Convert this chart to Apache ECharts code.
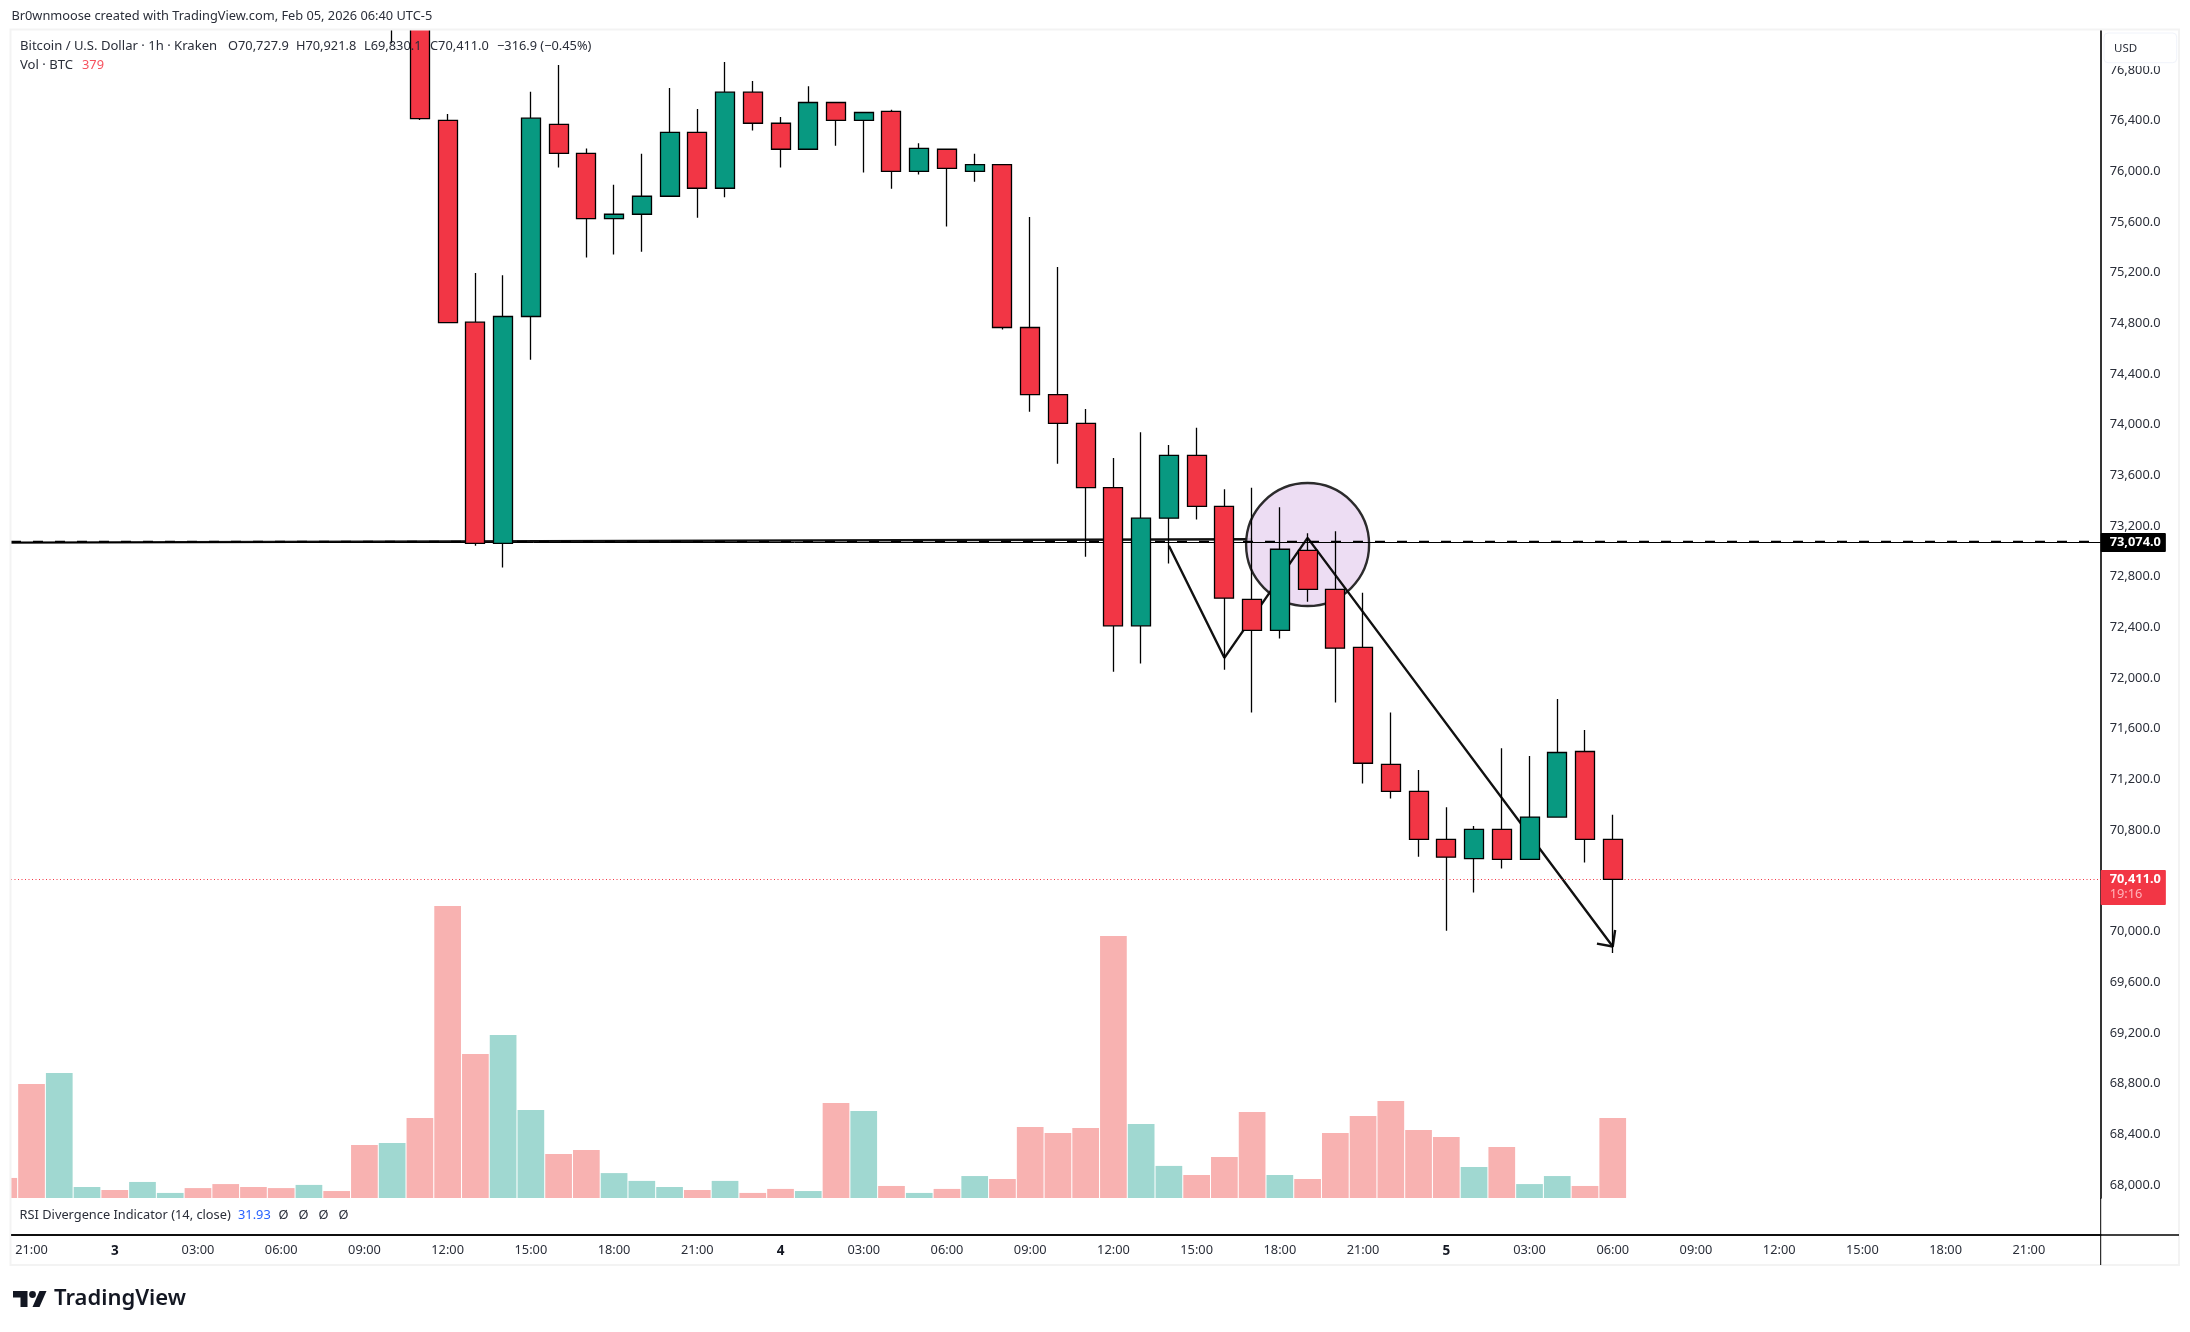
<!DOCTYPE html>
<html>
<head>
<meta charset="utf-8">
<style>
  html, body { margin: 0; padding: 0; background: #fff; }
  #main { width: 2190px; height: 1332px; }
</style>
<script src="https://cdn.jsdelivr.net/npm/echarts@6/dist/echarts.min.js"></script>
</head>
<body>
<div id="main"></div>
<script>
// candle index 0 is Feb 2 21:00, one step per hour
var candleIndex = [13,14,15,16,17,18,19,20,21,22,23,24,25,26,27,28,29,30,31,32,33,34,35,36,37,38,39,40,41,42,43,44,45,46,47,48,49,50,51,52,53,54,55,56,57];
var opens  = [77700,77500,76401,74809,73063,74854,76370,76141,75627,75661,75803,76307,75866,76624,76379,76174,76543,76401,76473,75999,76174,75999,76053,74767,74238,74011,73504,72413,73262,73758,73355,72622,72377,73008,72701,72242,71320,71106,70728,70576,70807,70570,70903,71421,70727.9];
var closes = [77300,76416,74806,73063,74854,76419,76141,75627,75661,75803,76307,75866,76624,76379,76174,76543,76401,76464,75999,76180,76023,76053,74767,74238,74011,73504,72413,73262,73758,73355,72631,72377,73017,72701,72236,71328,71106,70728,70587,70807,70570,70903,71413,70728,70411];
var lows   = [77010,76404,74800,73045,72873,74513,76029,75319,75343,75365,75803,75633,75796,76322,76029,76174,76201,75990,75863,75975,75564,75917,74751,74102,73691,72957,72050,72115,72904,73251,72067,71729,72312,72602,71807,71168,71049,70590,70006,70308,70497,70570,70903,70545,69830.1];
var highs  = [78000,77600,76452,75198,75180,76627,76839,76180,75893,76138,76657,76491,76863,76712,76428,76672,76543,76464,76485,76222,76174,76138,76053,75639,75244,74123,73738,73941,73840,73975,73490,73502,73349,73144,73160,72673,71729,71275,70981,70832,71447,71385,71836,71590,70921.8];

var volumeIndex = [-1,0,1,2,3,4,5,6,7,8,9,10,11,12,13,14,15,16,17,18,19,20,21,22,23,24,25,26,27,28,29,30,31,32,33,34,35,36,37,38,39,40,41,42,43,44,45,46,47,48,49,50,51,52,53,54,55,56,57];
var volumes = [95,540,592,52,38,76,24,47,66,52,47,62,33,251,261,379,1383,682,772,417,208,227,118,81,52,38,81,24,43,33,450,412,57,24,43,104,90,336,308,332,1241,351,152,109,194,407,109,90,308,388,459,322,289,147,242,66,104,57,379];
var volumeUp = [0,0,1,1,0,1,1,0,0,0,0,1,0,0,1,0,0,0,1,1,0,0,1,1,1,0,1,0,0,1,0,1,0,1,0,1,0,0,0,0,0,1,1,0,0,0,1,0,0,0,0,0,0,1,0,1,1,0,0];

var priceTicks = [68000,68400,68800,69200,69600,70000,70800,71200,71600,72000,72400,72800,73200,73600,74000,74400,74800,75200,75600,76000,76400,76800];
var priceTickLabels = ['68,000.0','68,400.0','68,800.0','69,200.0','69,600.0','70,000.0','70,800.0','71,200.0','71,600.0','72,000.0','72,400.0','72,800.0','73,200.0','73,600.0','74,000.0','74,400.0','74,800.0','75,200.0','75,600.0','76,000.0','76,400.0','76,800.0'];

var timeTicks = [0,3,6,9,12,15,18,21,24,27,30,33,36,39,42,45,48,51,54,57,60,63,66,69,72];
var timeLabels = ['21:00','3','03:00','06:00','09:00','12:00','15:00','18:00','21:00','4','03:00','06:00','09:00','12:00','15:00','18:00','21:00','5','03:00','06:00','09:00','12:00','15:00','18:00','21:00'];

// drawings on the chart, [candle index, price]
var levelLine = [[-0.74,73069],[44,73096]];
var zigzag = [[41,73045],[43,72160],[46,73107],[57,69882]];
var arrowHead = [[56.43,69905],[57,69882],[57.086,70012]];
var circleCentre = [46,73054];

var lastPrice = 70411;
var levelPrice = 73074;
var lastVolume = 379;

var TEXT_FONT = '"Noto Sans", sans-serif';
var UP_COLOR = '#089981';
var DOWN_COLOR = '#f23645';

var xMin = -0.74, xMax = 74.59;

var candleData = [];
for (var i = 0; i < candleIndex.length; i++) {
	candleData.push([candleIndex[i], opens[i], closes[i], lows[i], highs[i]]);
}
var volumeData = [];
for (var j = 0; j < volumeIndex.length; j++) {
	volumeData.push([volumeIndex[j], volumes[j]]);
}

function headerText(x, y, text, fill, size, weight) {
	return {
		type: 'text', z: 100, silent: true,
		style: {
			x: x, y: y, text: text, fill: fill || '#2a2e39',
			font: (weight || 'normal') + ' ' + (size || 12.8) + 'px ' + TEXT_FONT,
			verticalAlign: 'middle'
		}
	};
}

function ruleLine(x1, y1, x2, y2, width) {
	return {
		type: 'line', z: 50, silent: true,
		shape: { x1: x1, y1: y1, x2: x2, y2: y2 },
		style: { stroke: '#000', lineWidth: width }
	};
}

var chart = echarts.init(document.getElementById('main'), null, { renderer: 'canvas' });

chart.setOption({
	animation: false,
	backgroundColor: '#fff',
	grid: { left: 11, top: 30, width: 2089.7, height: 1168, containLabel: false },
	xAxis: {
		type: 'value', min: xMin, max: xMax, position: 'bottom', offset: 37,
		axisLine: { show: true, onZero: false, lineStyle: { color: '#000', width: 1.6 } },
		axisTick: { show: false },
		splitLine: { show: false },
		axisLabel: {
			customValues: timeTicks, margin: 9,
			color: '#2a2e39', fontFamily: TEXT_FONT, fontSize: 12.8,
			formatter: function (v) {
				var label = timeLabels[timeTicks.indexOf(v)];
				return label.length < 3 ? '{day|' + label + '}' : label;
			},
			rich: { day: { fontFamily: TEXT_FONT, fontSize: 13.5, fontWeight: 'bold', color: '#131722' } }
		}
	},
	yAxis: [{
		type: 'value', min: 67897, max: 77115, position: 'right', scale: true,
		axisLine: { show: true, onZero: false, lineStyle: { color: '#000', width: 1.6 } },
		axisTick: { show: false },
		splitLine: { show: false },
		axisLabel: {
			customValues: priceTicks, margin: 9, color: '#2a2e39', fontFamily: TEXT_FONT, fontSize: 12.8,
			formatter: function (v) {
				return priceTickLabels[priceTicks.indexOf(v)];
			}
		}
	}, {
		type: 'value', min: 0, max: 5533, show: false, splitLine: { show: false }
	}],
	series: [{
		type: 'bar', name: 'Vol', yAxisIndex: 1, z: 1, silent: true,
		barWidth: 26.7, data: volumeData,
		itemStyle: {
			color: function (p) {
				return volumeUp[p.dataIndex] ? '#a0d8d1' : '#f8b2b1';
			}
		},
		markLine: {
			silent: true, symbol: 'none', animation: false,
			lineStyle: { opacity: 0 },
			label: {
				show: true, position: 'end', distance: 0, padding: [4, 10, 3, 9], borderRadius: 1,
				backgroundColor: '#f7464f', color: '#fff', fontFamily: TEXT_FONT, fontSize: 12.8,
				formatter: String(lastVolume)
			},
			data: [{ yAxis: lastVolume }]
		}
	}, {
		type: 'line', name: 'level', z: 2, silent: true, showSymbol: false, clip: true,
		data: levelLine, lineStyle: { color: '#111', width: 2.4 }
	}, {
		type: 'scatter', name: 'circle', z: 3, silent: true,
		symbol: 'circle', symbolSize: 123, data: [circleCentre],
		itemStyle: { color: '#ecdaf2', opacity: 0.92, borderColor: '#1a1a1a', borderWidth: 2.4 }
	}, {
		type: 'line', name: 'zigzag', z: 4, silent: true, showSymbol: false,
		data: zigzag, lineStyle: { color: '#111', width: 2.4 }
	}, {
		type: 'line', name: 'arrow', z: 4, silent: true, showSymbol: false, clip: false,
		data: arrowHead, lineStyle: { color: '#111', width: 2.4 }
	}, {
		type: 'candlestick', name: 'BTCUSD', z: 5, silent: true, barWidth: 19.5, data: candleData,
		itemStyle: {
			color: UP_COLOR, color0: DOWN_COLOR,
			borderColor: '#000', borderColor0: '#000', borderColorDoji: '#000', borderWidth: 1.3
		},
		markLine: {
			silent: true, symbol: 'none', animation: false, precision: 1,
			data: [{
				yAxis: levelPrice - 4,
				lineStyle: { color: '#000', width: 1, type: 'solid' },
				label: { show: false }
			}, {
				yAxis: levelPrice + 4,
				lineStyle: { color: '#000', width: 1.4, type: [10, 12] },
				label: {
					show: true, position: 'end', distance: 0, padding: [3, 5, 3, 9], borderRadius: 1,
					backgroundColor: '#000', color: '#fff', fontFamily: TEXT_FONT, fontSize: 12.8, fontWeight: 'bold',
					offset: [0, 1], formatter: '73,074.0'
				}
			}, {
				yAxis: lastPrice,
				lineStyle: { color: DOWN_COLOR, width: 1, type: [1, 2.5] },
				label: {
					show: true, position: 'end', distance: 0, padding: [2, 5, 3, 9], borderRadius: 1,
					backgroundColor: DOWN_COLOR, color: '#fff', fontFamily: TEXT_FONT, offset: [0, 8],
					formatter: '{a|70,411.0}\n{b|19:16}',
					rich: {
						a: { fontFamily: TEXT_FONT, fontSize: 12.8, fontWeight: 'bold', color: '#fff', lineHeight: 15 },
						b: { fontFamily: TEXT_FONT, fontSize: 12.8, color: '#ffb3ba', lineHeight: 15 }
					}
				}
			}]
		}
	}],
	graphic: [
		// white margins: candles and bars running past the pane are cut here
		{
			type: 'rect', z: 40, silent: true,
			shape: { x: 0, y: 0, width: 2190, height: 30 },
			style: { fill: '#fff' }
		},
		{
			type: 'rect', z: 40, silent: true,
			shape: { x: 0, y: 0, width: 11, height: 1332 },
			style: { fill: '#fff' }
		},
		// chart frame
		{
			type: 'rect', z: 45, silent: true,
			shape: { x: 10.5, y: 29.5, width: 2168.5, height: 1235.5 },
			style: { fill: 'none', stroke: '#f3f3f3', lineWidth: 2 }
		},
		ruleLine(2100.7, 1198, 2100.7, 1265, 1),
		ruleLine(2100.7, 1235, 2179, 1235, 1.6),
		ruleLine(11, 1235, 2100.7, 1235, 1.6),
		// currency box over the top tick label
		{
			type: 'rect', z: 90, silent: true,
			shape: { x: 2104, y: 33, width: 72.7, height: 33, r: 0 },
			style: { fill: '#fff' }
		},
		{
			type: 'rect', z: 91, silent: true,
			shape: { x: 2104, y: 33, width: 72.7, height: 29.7, r: 4 },
			style: { fill: '#fff', stroke: '#f0f3fa', lineWidth: 1 }
		},
		headerText(2114, 49, 'USD', '#2a2e39', 11.5),
		headerText(11.4, 16, 'Br0wnmoose created with TradingView.com, Feb 05, 2026 06:40 UTC-5'),
		headerText(20, 46.7, 'Bitcoin / U.S. Dollar · 1h · Kraken', '#2a2e39', 13.1),
		headerText(228, 46.7, 'O70,727.9'),
		headerText(296, 46.7, 'H70,921.8'),
		headerText(364, 46.7, 'L69,830.1'),
		headerText(430, 46.7, 'C70,411.0'),
		headerText(497, 46.7, '−316.9 (−0.45%)'),
		headerText(20, 65.7, 'Vol · BTC', '#2a2e39', 13.1),
		headerText(82, 65.7, '379', '#f7525f'),
		headerText(19.6, 1215.7, 'RSI Divergence Indicator (14, close)'),
		headerText(238, 1215.7, '31.93', '#2962ff'),
		headerText(278.5, 1215.7, 'Ø   Ø   Ø   Ø'),
		// TradingView logo
		{
			type: 'polygon', z: 100, silent: true,
			shape: { points: [[13, 1291], [27.5, 1291], [27.5, 1307], [20.5, 1307], [20.5, 1297.5], [13, 1297.5]] },
			style: { fill: '#131722' }
		},
		{
			type: 'circle', z: 100, silent: true,
			shape: { cx: 32.5, cy: 1294.5, r: 3.4 },
			style: { fill: '#131722' }
		},
		{
			type: 'polygon', z: 100, silent: true,
			shape: { points: [[39.5, 1291], [46.5, 1291], [39.5, 1307], [32.5, 1307]] },
			style: { fill: '#131722' }
		},
		headerText(54, 1299, 'TradingView', '#131722', 22, '600')
	]
});
</script>
</body>
</html>
